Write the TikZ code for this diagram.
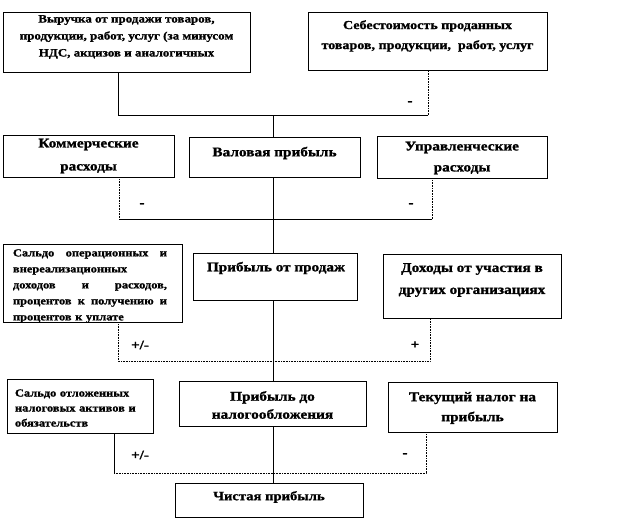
\documentclass[tikz,border=0pt]{standalone}
\usepackage{fontspec}
\setmainfont{Liberation Serif}[FakeStretch=1.15, BoldFeatures={FakeStretch=1.15, FakeBold=1.2}]
\tikzset{
  box/.style={draw, line width=0.6pt, inner sep=0pt},
  txt/.style args={#1/#2}{font=\bfseries\fontsize{#1}{#2}\selectfont, align=center, inner sep=0pt},
  sign/.style={font=\bfseries\fontsize{13}{14}\selectfont, inner sep=0pt},
  conn/.style={line width=0.6pt},
  dotline/.style={line width=0.6pt, densely dotted}
}
\begin{document}
\begin{tikzpicture}[x=1pt, y=-1pt]
\useasboundingbox (0,0) rectangle (626,525);
% boxes
\node[box, minimum width=247pt, minimum height=60pt] (vyr) at (126.5,42) {};
\node[txt=11.3/17] (vyrT) at (126.5,37) {Выручка от продажи товаров,\\продукции, работ, услуг (за минусом\\НДС, акцизов и аналогичных};
\node[box, minimum width=239pt, minimum height=58pt] (seb) at (427.5,41) {};
\node[txt=12.2/20] (sebT) at (427.5,36) {Себестоимость проданных\\товаров, продукции,\ \ работ, услуг};
\node[box, minimum width=171pt, minimum height=42pt] (kom) at (88.5,156) {};
\node[txt=13.3/23] (komT) at (88.5,156) {Коммерческие\\расходы};
\node[box, minimum width=171pt, minimum height=40pt] (val) at (274.5,157) {};
\node[txt=13.3/15] (valT) at (274.5,153) {Валовая прибыль};
\node[box, minimum width=170pt, minimum height=42pt] (upr) at (462,157) {};
\node[txt=13.3/21] (uprT) at (462,158) {Управленческие\\расходы};
\node[box, minimum width=179pt, minimum height=78pt] (sop) at (92.5,283) {};
\node[txt=10.8/16, align=left, text width=154pt] (sopT) at (90,286) {\makebox[154pt]{Сальдо\hfill операционных\hfill и}\\внереализационных\\\makebox[154pt]{доходов\hfill и\hfill расходов,}\\\makebox[154pt]{процентов\hfill к\hfill получению\hfill и}\\процентов к уплате};
\node[box, minimum width=164pt, minimum height=47pt] (prod) at (275,276.5) {};
\node[txt=13.2/15] (prodT) at (276,268) {Прибыль от продаж};
\node[box, minimum width=178pt, minimum height=64pt] (doh) at (472,286) {};
\node[txt=13.3/22] (dohT) at (472,280) {Доходы от участия в\\других организациях};
\node[box, minimum width=146pt, minimum height=54pt] (sot) at (80,406) {};
\node[txt=10.8/15, align=left, text width=123pt] (sotT) at (76.5,408) {Сальдо отложенных\\налоговых активов и\\обязательств};
\node[box, minimum width=187pt, minimum height=45pt] (dnal) at (272.5,403.5) {};
\node[txt=13.3/18] (dnalT) at (272.5,405) {Прибыль до\\налогообложения};
\node[box, minimum width=169pt, minimum height=50pt] (tek) at (472.5,407) {};
\node[txt=13.3/20] (tekT) at (472.5,408) {Текущий\ налог на\\прибыль};
\node[box, minimum width=188pt, minimum height=34pt] (chist) at (269,500) {};
\node[txt=12.7/14] (chistT) at (269,497) {Чистая прибыль};
% joints
\coordinate (j1) at (273,115);
\coordinate (a1) at (118,115); \coordinate (a2) at (428,115);
\coordinate (b1) at (119,219); \coordinate (b2) at (432,219);
\coordinate (c1) at (118,361); \coordinate (c2) at (430,361);
\coordinate (d1) at (114,473); \coordinate (d2) at (426,473);
\draw[conn] (a1 |- vyr.south) -- (a1) -- (a2);
\draw[dotline] (a2) -- (a2 |- seb.south);
\draw[dotline] (b1 |- kom.south) -- (b1);
\draw[conn] (b1) -- (b2);
\draw[dotline] (b2) -- (b2 |- upr.south);
\draw[dotline] (c1 |- sop.south) -- (c1) -- (c2) -- (c2 |- doh.south);
\draw[conn] (d1 |- sot.south) -- (d1);
\draw[dotline] (d1) -- (d2) -- (d2 |- tek.south);
% main line
\draw[conn] (j1) -- (j1 |- val.north);
\draw[conn] (j1 |- val.south) -- (j1 |- prod.north);
\draw[conn] (j1 |- prod.south) -- (j1 |- dnal.north);
\draw[conn] (j1 |- dnal.south) -- (j1 |- chist.north);
% signs
\node[sign] (s1) at (410,103) {-};
\node[sign] (s2) at (142,205) {-};
\node[sign] (s3) at (411,205) {-};
\node[sign] (s4) at (140,345) {+/-};
\node[sign] (s5) at (415,345) {+};
\node[sign] (s6) at (140,455) {+/-};
\node[sign] (s7) at (405,455) {-};
\end{tikzpicture}
\end{document}
